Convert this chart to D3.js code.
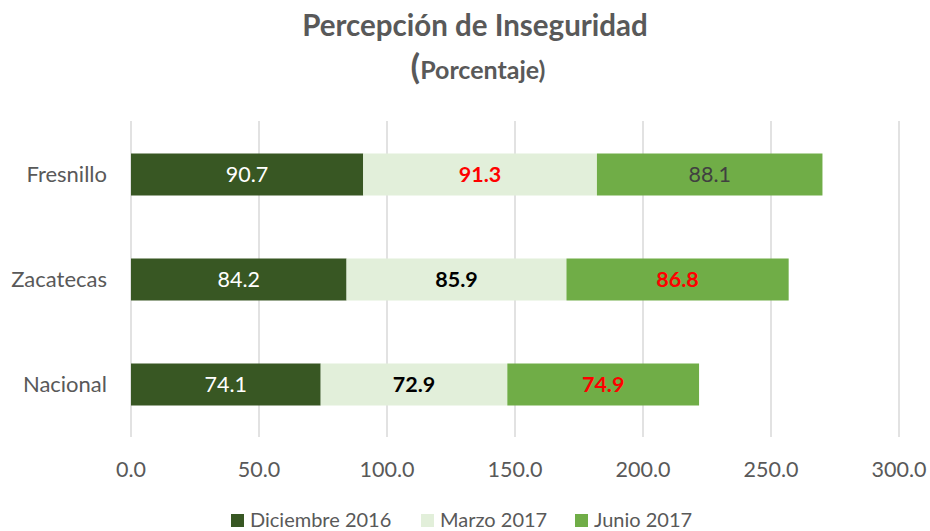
<!DOCTYPE html>
<html>
<head>
<meta charset="utf-8">
<script src="https://cdn.jsdelivr.net/npm/d3@7"></script>
<style>
  body { margin: 0; background: #fff; }
  svg { font-family: Lato, "Open Sans", sans-serif; }
</style>
</head>
<body>
<svg id="chart" width="930" height="531"></svg>
<script>
// Percepción de inseguridad — stacked horizontal bars
const categories = ["Fresnillo", "Zacatecas", "Nacional"];
const seriesNames = ["Diciembre 2016", "Marzo 2017", "Junio 2017"];
const dic2016 = [90.7, 84.2, 74.1];
const mar2017 = [91.3, 85.9, 72.9];
const jun2017 = [88.1, 86.8, 74.9];
const ticks = [0, 50, 100, 150, 200, 250, 300];

const colors = ["#385723", "#E2EFDA", "#70AD47"];
// label style per series / category: [fill, bold]
const labelStyle = [
  [["#fff", false], ["#fff", false], ["#fff", false]],
  [["#FF0000", true], ["#000", true], ["#000", true]],
  [["#404040", false], ["#FF0000", true], ["#FF0000", true]],
];

const svg = d3.select("#chart");
const x = d3.scaleLinear().domain([0, 300]).range([131, 899]);
const y = d3.scaleBand().domain(categories).range([122, 437]).paddingInner(0.6).paddingOuter(0.3);

// title
svg.append("text").attr("x", 475).attr("y", 36).attr("text-anchor", "middle")
  .style("font-size", "29.5px").style("font-weight", "bold").style("fill", "#595959")
  .text("Percepción de Inseguridad");
const sub = svg.append("text").attr("x", 478).attr("y", 79).attr("text-anchor", "middle")
  .style("font-weight", "bold").style("fill", "#595959");
sub.append("tspan").style("font-size", "35px").text("(");
sub.append("tspan").style("font-size", "25px").text("Porcentaje)");

// gridlines
svg.append("g").selectAll("line").data(ticks).join("line")
  .attr("x1", (d) => x(d)).attr("x2", (d) => x(d))
  .attr("y1", 121).attr("y2", 437)
  .attr("stroke", "#D9D9D9").attr("stroke-width", 1.5);

// tick labels
svg.append("g").selectAll("text").data(ticks).join("text")
  .attr("x", (d) => x(d)).attr("y", 477).attr("text-anchor", "middle")
  .style("font-size", "21.5px").style("fill", "#595959")
  .text((d) => d.toFixed(1));

// category labels
svg.append("g").selectAll("text").data(categories).join("text")
  .attr("x", 107).attr("y", (d) => y(d) + y.bandwidth() / 2).attr("dy", "0.35em")
  .attr("text-anchor", "end").style("font-size", "22px").style("fill", "#595959")
  .text((d) => d);

// stacked data
const table = categories.map((c, i) => ({ cat: c, s0: dic2016[i], s1: mar2017[i], s2: jun2017[i] }));
const stack = d3.stack().keys(["s0", "s1", "s2"])(table);

stack.forEach((layer, si) => {
  const g = svg.append("g");
  g.selectAll("rect").data(layer).join("rect")
    .attr("x", (d) => x(d[0])).attr("width", (d) => x(d[1]) - x(d[0]))
    .attr("y", (d) => y(d.data.cat)).attr("height", y.bandwidth())
    .attr("fill", colors[si]);
  g.selectAll("text").data(layer).join("text")
    .attr("x", (d) => (x(d[0]) + x(d[1])) / 2)
    .attr("y", (d) => y(d.data.cat) + y.bandwidth() / 2).attr("dy", "0.35em")
    .attr("text-anchor", "middle").style("font-size", "21.5px")
    .style("fill", (d, i) => labelStyle[si][i][0])
    .style("font-weight", (d, i) => labelStyle[si][i][1] ? "bold" : "normal")
    .text((d) => (d[1] - d[0]).toFixed(1));
});

// legend
const legendX = [231, 421, 575];
const lg = svg.append("g").selectAll("g").data(seriesNames).join("g")
  .attr("transform", (d, i) => `translate(${legendX[i]},514)`);
lg.append("rect").attr("width", 13).attr("height", 13).attr("fill", (d, i) => colors[i]);
lg.append("text").attr("x", 19).attr("y", 13)
  .style("font-size", "20px").style("fill", "#595959").text((d) => d);
</script>
</body>
</html>
